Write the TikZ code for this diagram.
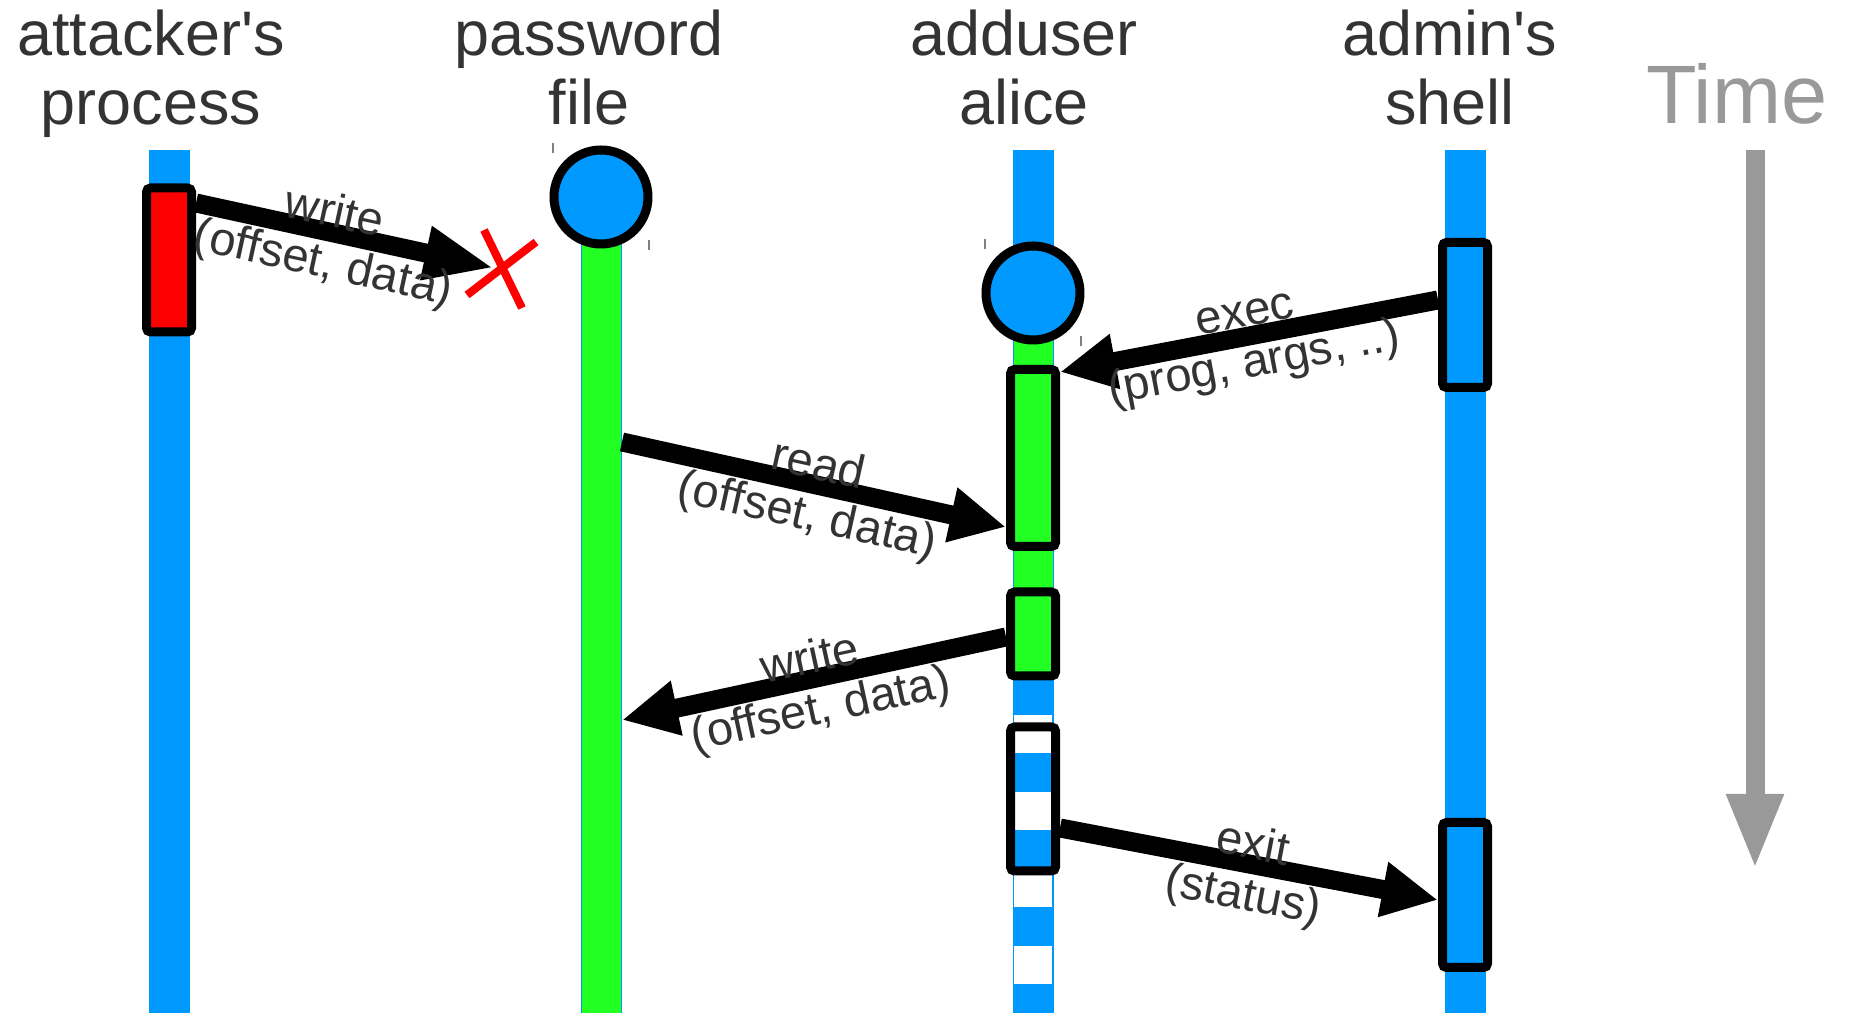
\documentclass[tikz,border=0pt]{standalone}
\usepackage{fontspec}
\setmainfont{Liberation Sans}
\usetikzlibrary{arrows.meta,positioning}

\definecolor{lifeblue}{HTML}{0099FF}
\definecolor{rungreen}{HTML}{22FF22}
\definecolor{textgray}{HTML}{333333}
\definecolor{timegray}{HTML}{999999}

\begin{document}
\begin{tikzpicture}[x=0.1mm,y=-0.1mm,
  title/.style={text=textgray,align=center,inner sep=0pt,font=\fontsize{17.9}{19.9}\selectfont},
  msg/.style={text=textgray,align=center,inner sep=0pt,sloped,yshift=-0.8mm,font=\fontsize{13.4}{14.6}\selectfont},
  call/.style={line width=1.9mm,-{Triangle[length=5.6mm,width=5.2mm]}},
  act/.style={draw=black,line width=0.9mm,rounded corners=0.4mm,minimum width=4.5mm,inner sep=0pt},
  obj/.style={circle,draw=black,fill=lifeblue,line width=0.9mm,minimum size=9.4mm,inner sep=0pt}]
\useasboundingbox (0,0) rectangle (1850,1013);

% column heads (base = last line)
\node[title,anchor=base] (atkname) at (151,125) {attacker\textquotesingle s\\process};
\node[title,anchor=base] (pwname) at (589,125) {password\\file};
\node[title,anchor=base] (addname) at (1024,125) {adduser\\alice};
\node[title,anchor=base] (admname) at (1450,125) {admin\textquotesingle s\\shell};
\node[text=timegray,anchor=base,inner sep=0pt,font=\fontsize{23.6}{26}\selectfont] (time) at (1737,124) {Time};

% lifelines
\foreach \x in {169,1465}{\draw[lifeblue,line width=4.1mm] (\x,150) -- (\x,1013);}
\draw[lifeblue,line width=4.1mm] (1033,150) -- (1033,1013);
\draw[lifeblue,line width=4.1mm] (601,197) -- (601,1013);
\draw[rungreen,line width=3.9mm] (601,197) -- (601,1013);
\draw[rungreen,line width=3.9mm] (1033,293) -- (1033,678);
\draw[white,line width=3.8mm,dash pattern=on 3.85mm off 3.85mm] (1033,715) -- (1033,1013);

% objects
\node[obj] (pwfile) at (601,197) {};
\node[obj] (alice) at (1033,293) {};
\foreach \o in {pwfile,alice}{
  \draw[gray,line width=0.2mm] ([shift={(-48,-54)}]\o.center) -- ++(0,10);
  \draw[gray,line width=0.2mm] ([shift={(48,43)}]\o.center) -- ++(0,10);
}

% activations
\node[act,fill=red,minimum height=14.4mm] (atk) at (169,260) {};
\node[act,fill=lifeblue,minimum height=14.5mm] (exec) at (1465,315) {};
\node[act,fill=rungreen,minimum height=17.7mm] (rd) at (1033,458) {};
\node[act,fill=rungreen,minimum height=8.4mm] (wr) at (1033,634) {};
\node[act,minimum height=14.4mm] (ex) at (1033,799) {};
\node[act,fill=lifeblue,minimum height=14.5mm] (ret) at (1465,895) {};

% messages
\node[minimum size=1.4mm,inner sep=0pt] (xmark) at (502,268) {};
\coordinate (rdfrom) at (622,442);
\coordinate (wrto) at (622,720);
\draw[call,-{Triangle[length=7mm,width=5mm]}] ([yshift=5.7mm]atk.east) -- (xmark.west) node[msg,pos=0.45] {write\\(offset, data)};
\draw[call] ([yshift=1.5mm]exec.west) -- ([yshift=8.6mm]rd.east) node[msg,midway] {exec\\(prog, args, ..)};
\draw[call] (rdfrom) -- ([yshift=-6.9mm]rd.west) node[msg,midway] {read\\(offset, data)};
\draw[call] ([yshift=-0.3mm]wr.west) -- (wrto) node[msg,midway] {write\\(offset, data)};
\draw[call] ([yshift=-2.9mm]ex.east) -- ([yshift=-0.5mm]ret.west) node[msg,midway] {exit\\(status)};

% failed write
\draw[red,line width=0.8mm] ([shift={(-18,-38)}]xmark.center) -- ([shift={(20,40)}]xmark.center);
\draw[red,line width=0.8mm] ([shift={(34,-26)}]xmark.center) -- ([shift={(-35,27)}]xmark.center);

% time axis
\coordinate (t0) at (1755,150);
\coordinate (t1) at (1755,870);
\draw[timegray,line width=1.9mm,-{Triangle[length=7.6mm,width=5.2mm]}] (t0) -- (t1);
\end{tikzpicture}
\end{document}
